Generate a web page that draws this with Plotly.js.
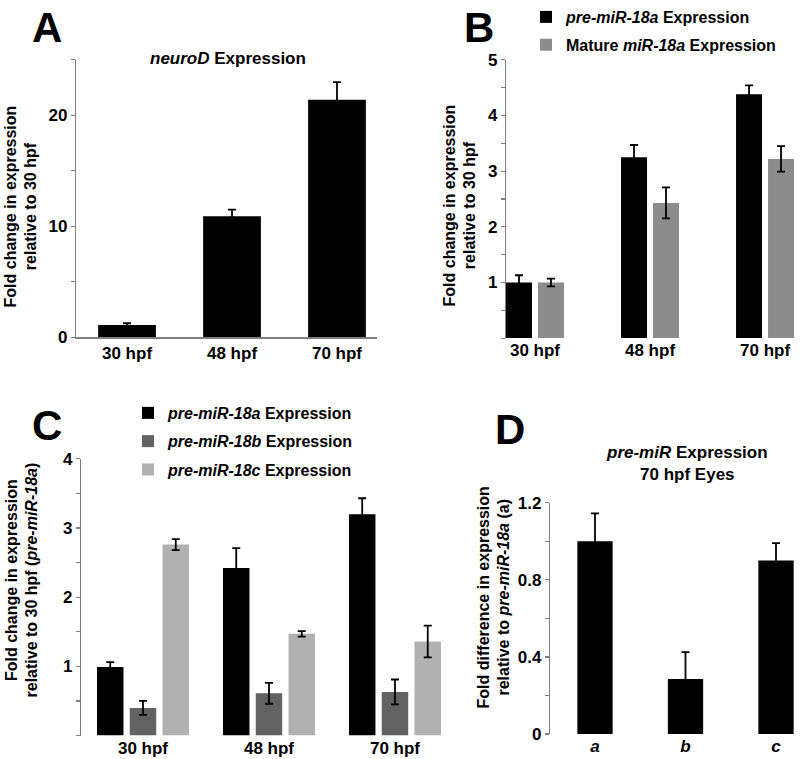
<!DOCTYPE html>
<html>
<head>
<meta charset="utf-8">
<script src="https://cdn.plot.ly/plotly-3.0.1.min.js"></script>
<style>html,body{margin:0;padding:0;background:#fff;}#chart{width:800px;height:759px;}</style>
</head>
<body>
<div id="chart"></div>
<script>
// ---- Data ----
const timeCategories = ['30 hpf', '48 hpf', '70 hpf'];

// Panel A: neuroD
const neuroDValues = [1.1, 10.9, 21.4];
const neuroDErrors = [0.15, 0.6, 1.6];

// Panel B
const preMiR18aB = [1.0, 3.25, 4.38];
const preMiR18aBErr = [0.13, 0.22, 0.16];
const matureMiR18a = [1.0, 2.43, 3.22];
const matureMiR18aErr = [0.07, 0.28, 0.23];

// Panel C
const preMiR18aC = [0.99, 2.42, 3.20];
const preMiR18aCErr = [0.07, 0.29, 0.23];
const preMiR18bC = [0.40, 0.61, 0.63];
const preMiR18bCErr = [0.10, 0.15, 0.18];
const preMiR18cC = [2.76, 1.47, 1.36];
const preMiR18cCErr = [0.08, 0.04, 0.23];

// Panel D
const eyeCategories = ['a', 'b', 'c'];
const eyeValues = [1.0, 0.285, 0.90];
const eyeErrors = [0.145, 0.14, 0.09];

// ---- Styles ----
const FONT = 'Arial, "Liberation Sans", Helvetica, sans-serif';
const W = 800, H = 759;
const px = v => v / W;
const py = v => 1 - v / H;
const errStyle = (arr) => ({type: 'data', array: arr, visible: true, color: '#000', thickness: 1.8, width: 4});
const axisLine = '#7f7f7f';

const traces = [
  // A
  {type: 'bar', x: timeCategories, y: neuroDValues, error_y: errStyle(neuroDErrors),
   marker: {color: '#000'}, width: 0.55, xaxis: 'x', yaxis: 'y', showlegend: false, name: 'neuroD'},
  // B
  {type: 'bar', x: timeCategories, y: preMiR18aB, error_y: errStyle(preMiR18aBErr),
   marker: {color: '#000'}, width: 0.226, offset: -0.252, xaxis: 'x2', yaxis: 'y2',
   name: '<i>pre-miR-18a</i> Expression', legend: 'legend', legendgroup: 'b1'},
  {type: 'bar', x: timeCategories, y: matureMiR18a, error_y: errStyle(matureMiR18aErr),
   marker: {color: '#8c8c8c'}, width: 0.226, offset: 0.026, xaxis: 'x2', yaxis: 'y2',
   name: 'Mature <i>miR-18a</i> Expression', legend: 'legend', legendgroup: 'b2'},
  // C
  {type: 'bar', x: timeCategories, y: preMiR18aC, error_y: errStyle(preMiR18aCErr),
   marker: {color: '#000'}, width: 0.21, offset: -0.365, xaxis: 'x3', yaxis: 'y3',
   name: '<i>pre-miR-18a</i> Expression', legend: 'legend2', legendgroup: 'c1'},
  {type: 'bar', x: timeCategories, y: preMiR18bC, error_y: errStyle(preMiR18bCErr),
   marker: {color: '#626262'}, width: 0.21, offset: -0.105, xaxis: 'x3', yaxis: 'y3',
   name: '<i>pre-miR-18b</i> Expression', legend: 'legend2', legendgroup: 'c2'},
  {type: 'bar', x: timeCategories, y: preMiR18cC, error_y: errStyle(preMiR18cCErr),
   marker: {color: '#b1b1b1'}, width: 0.21, offset: 0.155, xaxis: 'x3', yaxis: 'y3',
   name: '<i>pre-miR-18c</i> Expression', legend: 'legend2', legendgroup: 'c3'},
  // D
  {type: 'bar', x: eyeCategories, y: eyeValues, error_y: errStyle(eyeErrors),
   marker: {color: '#000'}, width: 0.39, xaxis: 'x4', yaxis: 'y4', showlegend: false, name: 'pre-miR'}
];

const tickFont = {family: FONT, size: 17, color: '#000', weight: 'bold'};
function yAxis(domain, range, tickvals, ticktext, minorDtick, anchor) {
  return {
    domain: domain, range: range, anchor: anchor, fixedrange: true,
    tickmode: 'array', tickvals: tickvals, ticktext: ticktext,
    showline: true, linecolor: axisLine, linewidth: 1.2,
    ticks: 'outside', ticklen: 4, tickcolor: axisLine, tickwidth: 1.2,
    minor: {dtick: minorDtick, tick0: 0, ticks: 'outside', ticklen: 4, tickcolor: axisLine, tickwidth: 1.2, showgrid: false},
    showgrid: false, zeroline: false, tickfont: tickFont
  };
}
function xAxis(domain, range, anchor, showline, ticktext) {
  const ax = {
    domain: domain, range: range, anchor: anchor, type: 'category', fixedrange: true,
    showline: showline, linecolor: axisLine, linewidth: 1.5,
    ticks: '', showgrid: false, zeroline: false, tickfont: tickFont
  };
  if (ticktext) { ax.tickmode = 'array'; ax.tickvals = eyeCategories; ax.ticktext = ticktext; }
  return ax;
}

const annFont = (size) => ({family: FONT, size: size, color: '#000', weight: 'bold'});
const letter = (t, x, yTop) => ({text: t, x: px(x), y: py(yTop), xref: 'paper', yref: 'paper', showarrow: false,
  xanchor: 'center', yanchor: 'top', font: annFont(42)});
const ytitle = (t, x, y) => ({text: t, x: px(x), y: py(y), xref: 'paper', yref: 'paper', showarrow: false,
  xanchor: 'center', yanchor: 'middle', textangle: -90, font: annFont(16)});
const legendFont = {family: FONT, size: 16, color: '#000', weight: 'bold'};

const layout = {
  width: W, height: H, margin: {l: 0, r: 0, t: 0, b: 0},
  paper_bgcolor: '#fff', plot_bgcolor: 'rgba(0,0,0,0)',
  barmode: 'overlay',
  font: {family: FONT, color: '#000'},
  xaxis: xAxis([px(76), px(377)], [-0.486, 2.381], 'y', true),
  yaxis: yAxis([py(336), py(58)], [0, 25], [0, 10, 20], ['0', '10', '20'], 5, 'x'),
  xaxis2: xAxis([px(506), px(800)], [-0.252, 2.304], 'y2', false),
  yaxis2: yAxis([py(337), py(58)], [0, 5], [1, 2, 3, 4, 5], ['1', '2', '3', '4', '5'], 0.5, 'x2'),
  xaxis3: xAxis([px(81), px(445)], [-0.492, 2.397], 'y3', false),
  yaxis3: yAxis([py(735.5), py(458)], [0, 4], [1, 2, 3, 4], ['1', '2', '3', '4'], 0.5, 'x3'),
  xaxis4: xAxis([px(550), px(800)], [-0.497, 2.265], 'y4', false, ['<i>a</i>', '<i>b</i>', '<i>c</i>']),
  yaxis4: yAxis([py(734), py(502)], [0, 1.2], [0, 0.4, 0.8, 1.2], ['0', '0.4', '0.8', '1.2'], 0.2, 'x4'),
  legend: {x: px(526), y: py(-2), xanchor: 'left', yanchor: 'top', bgcolor: 'rgba(0,0,0,0)',
    traceorder: 'grouped', font: legendFont, tracegroupgap: 4, itemclick: false},
  legend2: {x: px(128), y: py(395), xanchor: 'left', yanchor: 'top', bgcolor: 'rgba(0,0,0,0)',
    traceorder: 'grouped', font: legendFont, tracegroupgap: 4.5, itemclick: false},
  annotations: [
    letter('A', 47, 0), letter('B', 479, 0), letter('C', 47, 399), letter('D', 510, 403),
    {text: '<i>neuroD</i> Expression', x: px(228), y: py(57), xref: 'paper', yref: 'paper', showarrow: false,
     xanchor: 'center', yanchor: 'middle', font: annFont(17)},
    {text: '<i>pre-miR</i> Expression<br>70 hpf Eyes', x: px(687), y: py(463), xref: 'paper', yref: 'paper', showarrow: false,
     xanchor: 'center', yanchor: 'middle', font: annFont(17)},
    ytitle('Fold change in expression<br>relative to 30 hpf', 21, 205),
    ytitle('Fold change in expression<br>relative to 30 hpf', 460, 204),
    ytitle('Fold change in expression<br>relative to 30 hpf (<i>pre-miR-18a</i>)', 22, 580),
    ytitle('Fold difference in expression<br>relative to <i>pre-miR-18a</i> (a)', 494, 597)
  ]
};

Plotly.newPlot('chart', traces, layout, {displayModeBar: false, staticPlot: true});
</script>
</body>
</html>
